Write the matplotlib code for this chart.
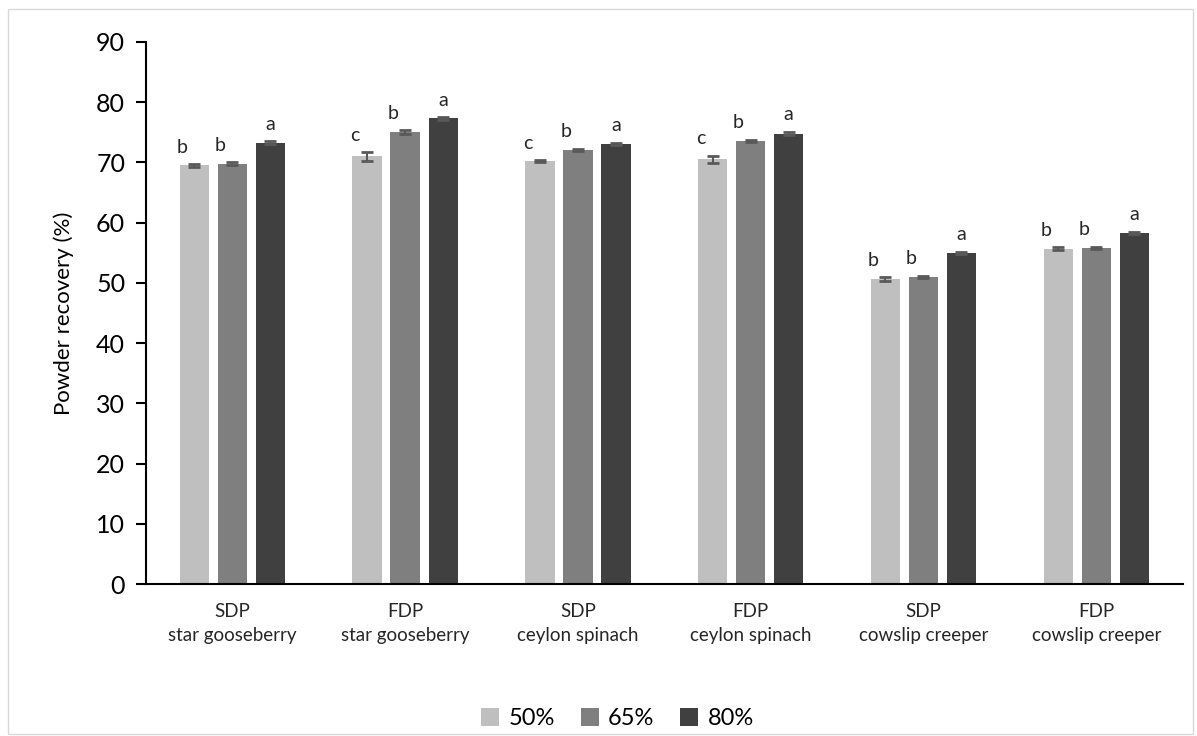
import matplotlib.pyplot as plt
import numpy as np

plt.rcParams['font.family'] = ['Lato', 'DejaVu Sans']

groups = ['SDP\nstar gooseberry', 'FDP\nstar gooseberry', 'SDP\nceylon spinach',
          'FDP\nceylon spinach', 'SDP\ncowslip creeper', 'FDP\ncowslip creeper']
series = ['50%', '65%', '80%']
v50 = [69.5, 71.0, 70.2, 70.5, 50.6, 55.7]
v65 = [69.8, 75.0, 72.1, 73.6, 51.0, 55.8]
v80 = [73.3, 77.3, 73.1, 74.8, 55.0, 58.3]
e50 = [0.2, 0.7, 0.2, 0.6, 0.3, 0.2]
e65 = [0.2, 0.3, 0.2, 0.2, 0.2, 0.2]
e80 = [0.2, 0.2, 0.2, 0.3, 0.2, 0.2]
l50 = ['b', 'c', 'c', 'c', 'b', 'b']
l65 = ['b', 'b', 'b', 'b', 'b', 'b']
l80 = ['a', 'a', 'a', 'a', 'a', 'a']

colors = ['#bfbfbf', '#7f7f7f', '#404040']

fig = plt.figure(figsize=(11.97, 7.36), dpi=100)
ax = fig.add_axes([0.122, 0.2065, 0.866, 0.7365])

x = np.arange(len(groups))
width = 0.17
step = 0.22
vals = [v50, v65, v80]
errs = [e50, e65, e80]
lets = [l50, l65, l80]
for i in range(3):
    pos = x + (i - 1) * step
    ax.bar(pos, vals[i], width, color=colors[i], label=series[i], zorder=2)
    ax.errorbar(pos, vals[i], yerr=errs[i], fmt='none', ecolor='#595959',
                elinewidth=1.5, capsize=4, capthick=2, zorder=3)
    for p, v, e, t in zip(pos, vals[i], errs[i], lets[i]):
        ax.text(p - 0.07 if i < 2 else p, v + e + 1.4, t, ha='center', va='bottom',
                fontsize=14, color='#262626')

ax.set_xlim(-0.5, len(groups) - 0.5)
ax.set_ylim(0, 90)
ax.set_yticks(np.arange(0, 91, 10))
ax.tick_params(axis='y', direction='out', length=7, width=1.5, labelsize=18, pad=8)
ax.tick_params(axis='x', length=0, labelsize=13.5, pad=14)
ax.set_xticks(x)
ax.set_xticklabels(groups, color='#262626', linespacing=1.45)
ax.set_ylabel('Powder recovery (%)', fontsize=16, labelpad=16)
for s in ['top', 'right']:
    ax.spines[s].set_visible(False)
ax.spines['left'].set_linewidth(1.5)
ax.spines['bottom'].set_linewidth(1.5)

ax.legend(loc='upper center', bbox_to_anchor=(0.455, -0.19), ncol=3, frameon=False,
          fontsize=17, handlelength=0.75, handleheight=0.75, columnspacing=1.1,
          handletextpad=0.4)

fig.patches.append(plt.Rectangle((0.007, 0.003), 0.99, 0.985, transform=fig.transFigure,
                                 fill=False, edgecolor='#d9d9d9', linewidth=1))

fig.savefig('out.png', dpi=100)
